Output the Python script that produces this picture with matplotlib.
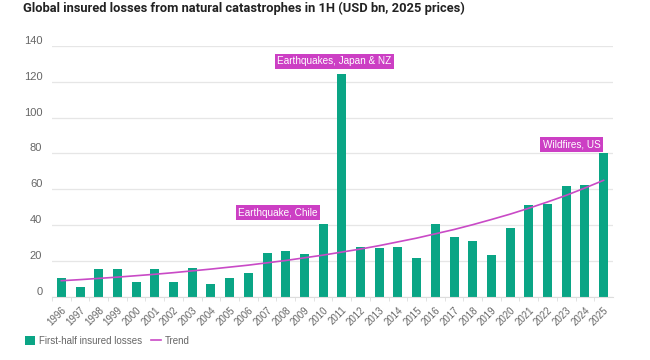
import matplotlib.pyplot as plt
from matplotlib.patches import Patch
from matplotlib.lines import Line2D

years = [str(y) for y in range(1996, 2026)]
losses = [10.6, 5.6, 15.5, 15.3, 8.4, 15.7, 8.0, 16.0, 7.3, 10.6,
          13.4, 24.2, 25.7, 23.7, 40.4, 124.6, 27.9, 27.4, 27.6, 21.6,
          40.4, 33.5, 31.1, 23.3, 38.2, 51.1, 51.6, 61.8, 62.4, 80.1]
trend = [8.9, 9.5, 10.2, 10.9, 11.7, 12.5, 13.4, 14.4, 15.4, 16.5,
         17.6, 18.9, 20.2, 21.7, 23.2, 24.9, 26.6, 28.5, 30.6, 32.7,
         35.1, 37.5, 40.2, 43.1, 46.1, 49.4, 52.9, 56.6, 60.7, 65.0]
yticks = [0, 20, 40, 60, 80, 100, 120, 140]

# label text, year index, y value
notes = [("Earthquakes, Japan & NZ", 14.6, 131.5),
         ("Earthquake, Chile", 11.6, 46.8),
         ("Wildfires, US", 27.3, 85.0)]

bar_color = "#0aa585"
trend_color = "#c94ac6"
box_color = "#cc3fc4"
grey = "#666666"

plt.rcParams.update({
    "font.family": ["Liberation Sans", "DejaVu Sans"],
})

fig = plt.figure(figsize=(6.5, 3.6), dpi=100)
ax = fig.add_axes([0.08, 0.176, 0.863, 0.696])

x = list(range(len(years)))
ax.bar(x, losses, width=0.48, color=bar_color, zorder=2)
ax.plot(x, trend, color=trend_color, linewidth=1.2, zorder=3)

ax.set_xlim(-0.5, 29.5)
ax.set_ylim(0, 140)
ax.set_yticks(yticks)
ax.set_yticklabels([str(v) for v in yticks], fontsize=8, color=grey)
for lab in ax.get_yticklabels():
    lab.set_va("bottom")
ax.tick_params(axis="y", length=0, pad=7)
ax.yaxis.grid(True, color="#e6e6e6", linewidth=0.9, zorder=0)

ax.set_xticks(x)
ax.set_xticklabels(years, rotation=45, ha="right", rotation_mode="anchor",
                   fontsize=7, color=grey)
ax.set_xticks([i + 0.5 for i in x[:-1]] + [-0.5], minor=True)
ax.tick_params(axis="x", which="major", length=0, pad=6)
ax.tick_params(axis="x", which="minor", length=3, color="#dddddd")

for s in ["top", "right", "left"]:
    ax.spines[s].set_visible(False)
ax.spines["bottom"].set_color("#dddddd")

for txt, xi, yv in notes:
    ax.text(xi, yv, txt, ha="center", va="center", fontsize=7.2, color="white",
            bbox=dict(boxstyle="square,pad=0.25", fc=box_color, ec="none"),
            zorder=5)

fig.text(0.035, 0.967, "Global insured losses from natural catastrophes in 1H (USD bn, 2025 prices)",
         fontsize=9.3, fontweight="bold", color="#222222", va="baseline", ha="left",
         family=["Roboto", "DejaVu Sans"])

handles = [Patch(facecolor=bar_color, edgecolor="none"),
           Line2D([0], [0], color=trend_color, linewidth=1.2)]
fig.legend(handles, ["First-half insured losses", "Trend"], loc="lower left",
           bbox_to_anchor=(0.025, 0.015), ncol=2, frameon=False, fontsize=7,
           labelcolor=grey, handlelength=1.0, handleheight=0.9,
           handletextpad=0.4, columnspacing=1.0)

fig.savefig("out.png", dpi=100)
